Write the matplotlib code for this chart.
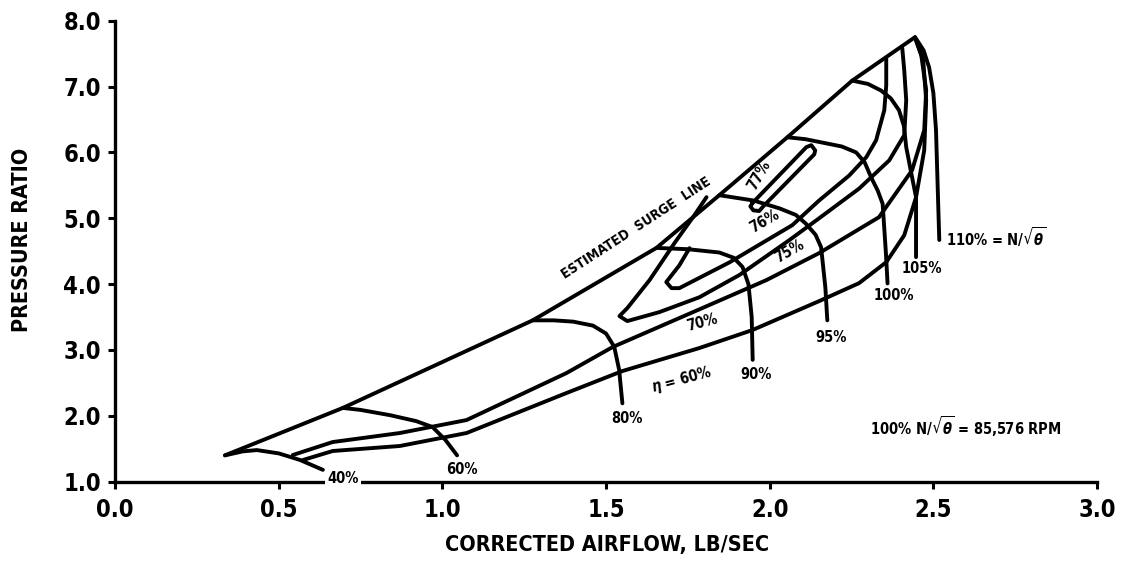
import matplotlib
matplotlib.use("Agg")
import matplotlib.pyplot as plt

plt.rcParams['font.family'] = ['DejaVu Sans']
plt.rcParams['font.stretch'] = 'condensed'
plt.rcParams['font.weight'] = 'bold'
plt.rcParams['mathtext.fontset'] = 'dejavusans'

# surge line and corrected-speed lines (corrected airflow, pressure ratio)
surge_x = [0.336, 0.696, 1.276, 1.654, 1.846, 2.054, 2.252, 2.444]
surge_y = [1.40, 2.12, 3.45, 4.55, 5.35, 6.23, 7.09, 7.75]

speed_40_x = [0.336, 0.39, 0.433, 0.50, 0.565, 0.635]
speed_40_y = [1.40, 1.46, 1.48, 1.43, 1.33, 1.18]
speed_60_x = [0.696, 0.75, 0.84, 0.92, 0.97, 1.01, 1.045]
speed_60_y = [2.12, 2.09, 2.01, 1.92, 1.83, 1.63, 1.40]
speed_80_x = [1.276, 1.34, 1.40, 1.46, 1.50, 1.525, 1.54, 1.55]
speed_80_y = [3.45, 3.45, 3.43, 3.37, 3.25, 3.05, 2.70, 2.19]
speed_90_x = [1.654, 1.75, 1.846, 1.89, 1.917, 1.935, 1.945, 1.948]
speed_90_y = [4.55, 4.53, 4.48, 4.40, 4.26, 4.00, 3.50, 2.85]
speed_95_x = [1.846, 1.95, 2.03, 2.08, 2.11, 2.14, 2.157, 2.17, 2.176]
speed_95_y = [5.35, 5.27, 5.15, 5.05, 4.92, 4.75, 4.56, 3.95, 3.45]
speed_100_x = [2.054, 2.11, 2.16, 2.22, 2.264, 2.29, 2.31, 2.33, 2.345, 2.355, 2.36]
speed_100_y = [6.23, 6.20, 6.15, 6.09, 6.00, 5.85, 5.62, 5.42, 5.22, 4.47, 4.01]
speed_105_x = [2.252, 2.30, 2.34, 2.37, 2.395, 2.41, 2.417, 2.435, 2.447, 2.447]
speed_105_y = [7.09, 7.04, 6.94, 6.82, 6.64, 6.40, 6.08, 5.62, 5.32, 4.41]
speed_110_x = [2.444, 2.47, 2.487, 2.50, 2.508, 2.513, 2.518]
speed_110_y = [7.75, 7.55, 7.29, 6.90, 6.34, 5.50, 4.67]

# efficiency contours
eff_60_x = [0.574, 0.665, 0.870, 1.074, 1.379, 1.550, 1.785, 1.947, 2.151, 2.273,
            2.356, 2.411, 2.447, 2.472, 2.478, 2.469, 2.447]
eff_60_y = [1.329, 1.466, 1.542, 1.739, 2.346, 2.680, 3.029, 3.302, 3.742, 4.015,
            4.333, 4.742, 5.319, 6.032, 6.791, 7.398, 7.702]
eff_70_x = [0.543, 0.665, 0.870, 1.074, 1.379, 1.520, 1.794, 1.990, 2.151, 2.334,
            2.435, 2.472, 2.478, 2.463, 2.447]
eff_70_y = [1.405, 1.602, 1.739, 1.936, 2.649, 3.044, 3.636, 4.061, 4.471, 5.017,
            5.730, 6.337, 6.944, 7.475, 7.702]
eff_75_x = [1.807, 1.770, 1.709, 1.633, 1.565, 1.541, 1.565, 1.663, 1.785, 1.907,
            2.060, 2.151, 2.273, 2.365, 2.411, 2.417, 2.411, 2.405]
eff_75_y = [5.320, 5.047, 4.622, 4.061, 3.636, 3.514, 3.439, 3.575, 3.800, 4.137,
            4.668, 5.000, 5.450, 5.878, 6.261, 6.792, 7.247, 7.580]
eff_76_x = [1.755, 1.724, 1.684, 1.700, 1.724, 1.877, 2.069, 2.151, 2.243, 2.295,
            2.325, 2.350, 2.356, 2.356]
eff_76_y = [4.546, 4.285, 4.031, 3.939, 3.939, 4.330, 4.895, 5.270, 5.650, 5.927,
            6.184, 6.640, 7.019, 7.429]
eff_77_x = [1.947, 2.112, 2.127, 2.139, 2.136, 1.980, 1.968, 1.950, 1.941, 1.947]
eff_77_y = [5.23, 6.08, 6.11, 6.03, 5.97, 5.18, 5.11, 5.12, 5.18, 5.23]

speed_labels = ['40%', '60%', '80%', '90%', '95%', '100%', '105%']
speed_label_x = [0.696, 1.059, 1.565, 1.959, 2.188, 2.380, 2.466]
speed_label_y = [1.056, 1.178, 1.967, 2.62, 3.196, 3.834, 4.24]

eff_labels = ['77%', '76%', '75%', '70%', r'$\eta$ = 60%']
eff_label_x = [1.968, 1.984, 2.060, 1.794, 1.730]
eff_label_y = [5.65, 4.957, 4.50, 3.42, 2.545]
eff_label_rot = [60, 30, 30, 15, 15]

fig = plt.figure(figsize=(11.23, 5.62), dpi=100)
ax = fig.add_axes([0.1024, 0.1429, 0.8745, 0.8203])

lw = 2.8
lines = [(surge_x, surge_y), (speed_40_x, speed_40_y), (speed_60_x, speed_60_y),
         (speed_80_x, speed_80_y), (speed_90_x, speed_90_y), (speed_95_x, speed_95_y),
         (speed_100_x, speed_100_y), (speed_105_x, speed_105_y), (speed_110_x, speed_110_y),
         (eff_60_x, eff_60_y), (eff_70_x, eff_70_y), (eff_75_x, eff_75_y),
         (eff_76_x, eff_76_y), (eff_77_x, eff_77_y)]
for xs, ys in lines:
    ax.plot(xs, ys, color='black', lw=lw, solid_joinstyle='round',
            solid_capstyle='round', clip_on=False)

for lab, x, y in zip(speed_labels, speed_label_x, speed_label_y):
    t = ax.text(x, y, lab, fontsize=10.5, ha='center', va='center', zorder=5)
    if lab == '40%':
        # label sits on the axis line, so blank out the spine behind it
        t.set_bbox(dict(facecolor='white', edgecolor='none', pad=1.5))

for lab, x, y, r in zip(eff_labels, eff_label_x, eff_label_y, eff_label_rot):
    ax.text(x, y, lab, fontsize=10.5, ha='center', va='center', rotation=r,
            rotation_mode='anchor')

ax.text(1.593, 4.847, 'ESTIMATED  SURGE  LINE', fontsize=10, ha='center',
        va='center', rotation=33, rotation_mode='anchor')
ax.text(2.539, 4.71, r'110% = N/$\sqrt{\theta}$', fontsize=10.5, ha='left', va='center')
ax.text(2.60, 1.83, r'100% N/$\sqrt{\theta}$ = 85,576 RPM', fontsize=10.5,
        ha='center', va='center')

ax.set_xlim(0, 3.0)
ax.set_ylim(1.0, 8.0)
ax.set_xticks([0.0, 0.5, 1.0, 1.5, 2.0, 2.5, 3.0])
ax.set_yticks([1, 2, 3, 4, 5, 6, 7, 8])
ax.xaxis.set_major_formatter(plt.FormatStrFormatter('%.1f'))
ax.yaxis.set_major_formatter(plt.FormatStrFormatter('%.1f'))
ax.tick_params(direction='out', length=5, width=2.2, labelsize=17, pad=5)
ax.tick_params(axis='x', pad=7)
for side in ['top', 'right']:
    ax.spines[side].set_visible(False)
for side in ['left', 'bottom']:
    ax.spines[side].set_linewidth(2.4)

fig.text(0.541, 0.030, 'CORRECTED AIRFLOW, LB/SEC', fontsize=15.5, ha='center', va='center')
fig.text(0.020, 0.573, 'PRESSURE RATIO', fontsize=15.5, ha='center', va='center',
         rotation=90)

fig.savefig('out.png', dpi=100)
